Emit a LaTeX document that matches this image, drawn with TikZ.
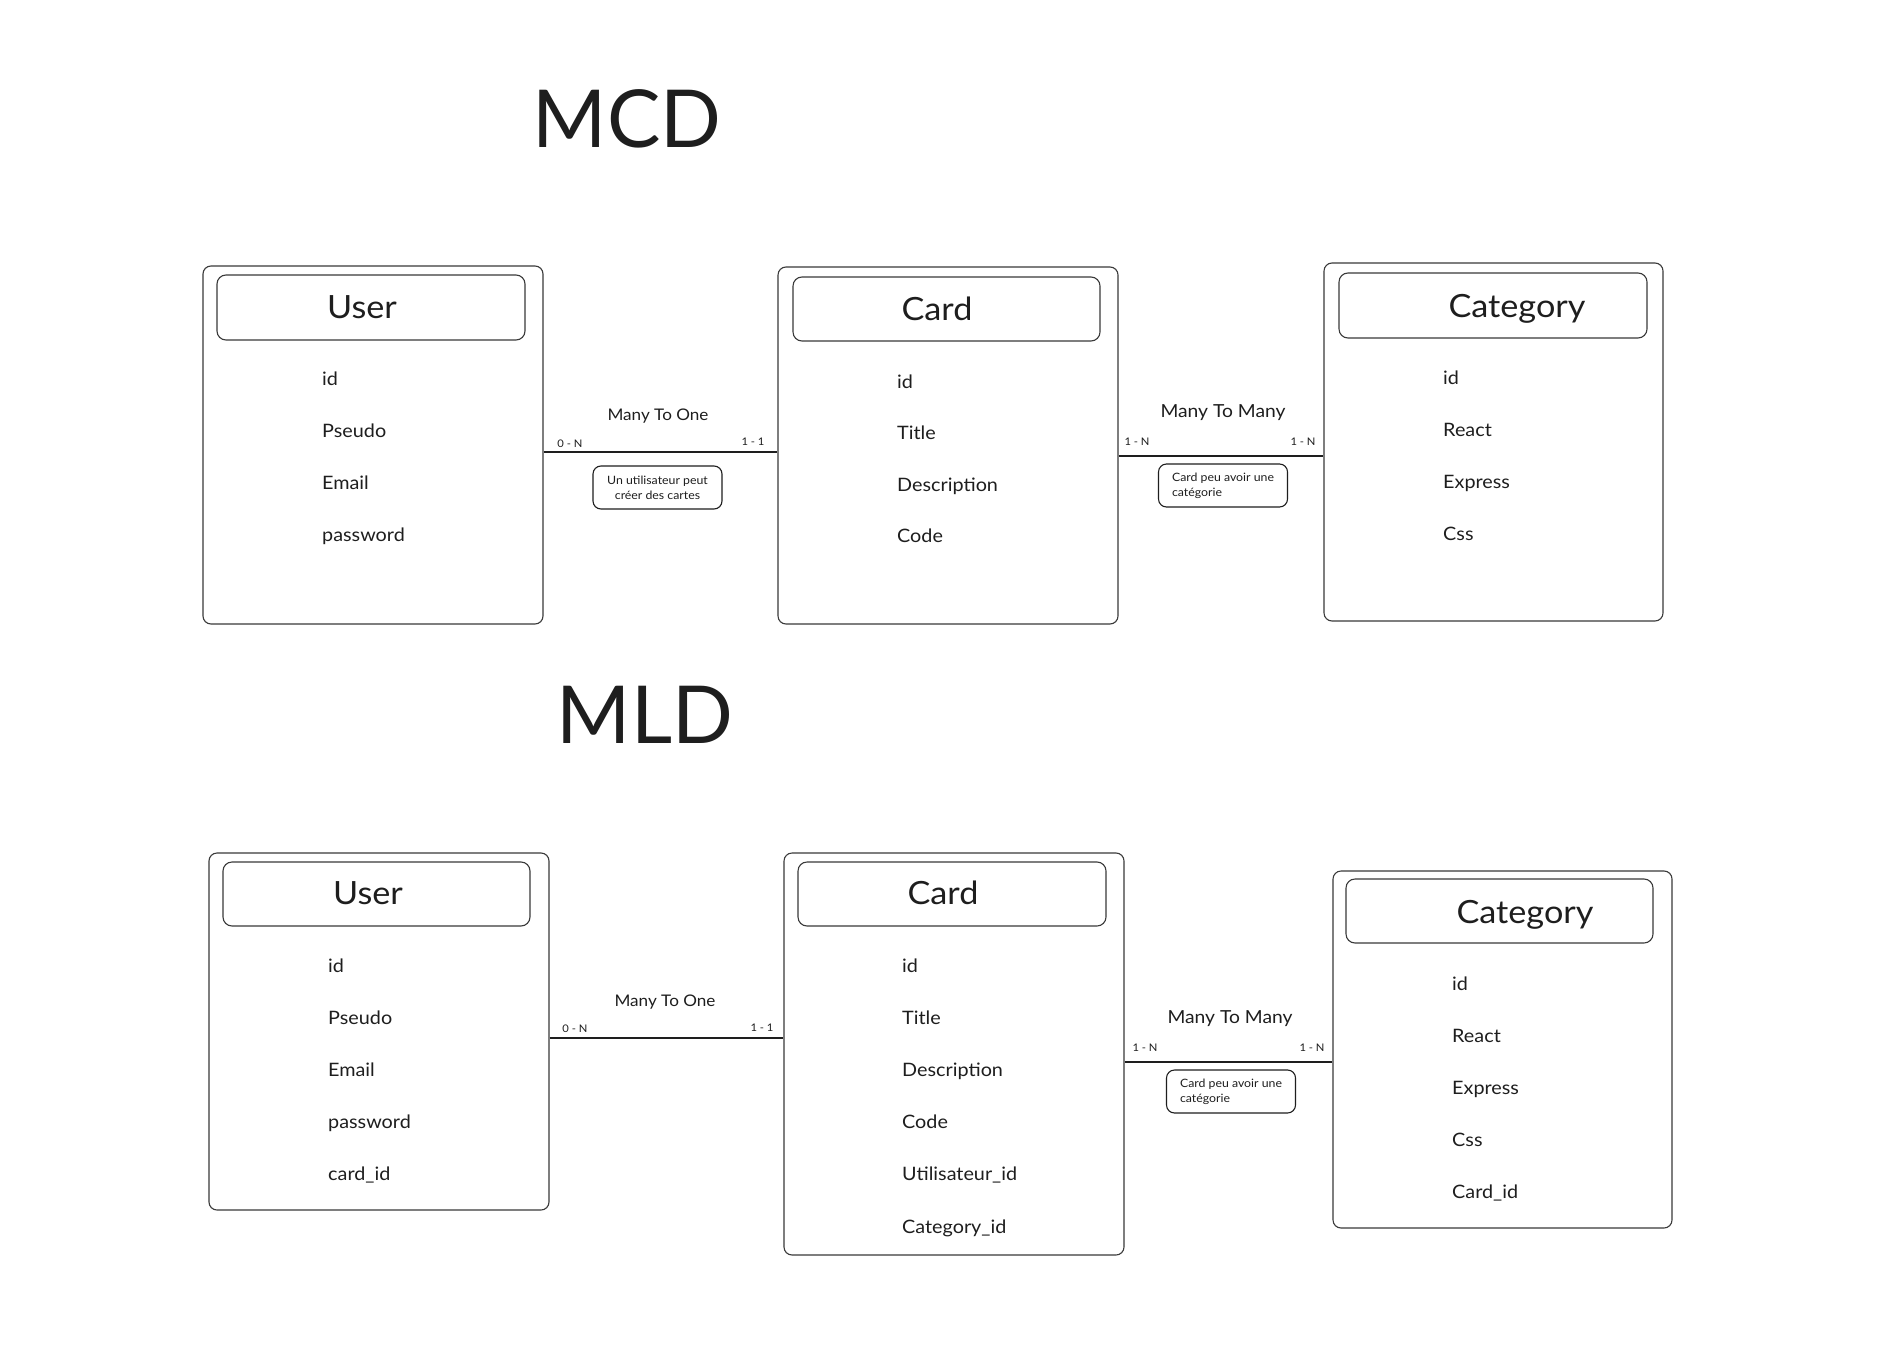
\documentclass[tikz,border=0pt]{standalone}
\usepackage{fontspec}
\setmainfont[FakeStretch=1.07]{Lato}
\newfontfamily\titlefont{Lato}
\definecolor{ink}{HTML}{1E1E1E}
\definecolor{edge}{HTML}{3A3A3A}
\tikzset{
  entity/.style={draw=edge,line width=1.1pt,rounded corners=8pt,inner sep=0pt},
  head/.style={draw=edge,line width=1.1pt,rounded corners=9pt,inner sep=0pt},
  headtxt/.style={anchor=base,text=ink,font=\fontsize{32}{36}\selectfont},
  attr/.style={anchor=base west,text=ink,inner sep=0pt,font=\fontsize{18.5}{22}\selectfont},
  reltxt/.style={anchor=base,text=ink,inner sep=0pt,font=\fontsize{16}{19}\selectfont},
  mult/.style={anchor=base,text=ink,inner sep=0pt,font=\fontsize{10.5}{12}\selectfont},
  note/.style={draw=ink,line width=1.1pt,rounded corners=8pt,text=ink,
    minimum width=129pt,minimum height=43pt,font=\fontsize{11.5}{15}\selectfont},
  link/.style={draw=ink,line width=1.6pt},
  bigtitle/.style={anchor=base,text=ink,font=\titlefont\fontsize{80}{88}\selectfont}
}
\begin{document}
\begin{tikzpicture}[x=1pt,y=-1pt]
\fill[white] (0,0) rectangle (1894,1364);
\useasboundingbox (0,0) rectangle (1894,1364);
% MCD
\node[bigtitle] (mcd) at (627,148) {MCD};
\node[entity,minimum width=340pt,minimum height=358pt] (usr1) at (373,445) {};
\node[head,minimum width=308pt,minimum height=65pt] (usr1h) at (371,307.5) {};
\node[headtxt] (usr1t) at (362,318) {User};
\foreach \txt [count=\i from 0] in {id,Pseudo,Email,password}
  \node[attr] (usr1a\i) at (322,385+52.3*\i) {\txt};
\node[entity,minimum width=340pt,minimum height=357pt] (card1) at (948,445.5) {};
\node[head,minimum width=307pt,minimum height=64pt] (card1h) at (946.5,309) {};
\node[headtxt] (card1t) at (937,320) {Card};
\foreach \txt [count=\i from 0] in {id,Title,Description,Code}
  \node[attr] (card1a\i) at (897,388+51.5*\i) {\txt};
\node[entity,minimum width=339pt,minimum height=358pt] (cat1) at (1493.5,442) {};
\node[head,minimum width=308pt,minimum height=65pt] (cat1h) at (1493,305.5) {};
\node[headtxt] (cat1t) at (1517,317) {Category};
\foreach \txt [count=\i from 0] in {id,React,Express,Css}
  \node[attr] (cat1a\i) at (1443,384+52*\i) {\txt};
% MCD links
\draw[link] ([yshift=-7pt]usr1.east) -- ([yshift=-7pt]usr1.east -| card1.west);
\node[reltxt] (rel1) at (658,420) {Many To One};
\node[mult] (m1a) at (570,447) {0 - N};
\node[mult] (m1b) at (753,445) {1 - 1};
\node[note,align=center] (nt1) at (657.5,487.5) {Un utilisateur peut\\créer des cartes};
\draw[link] ([yshift=-10.5pt]card1.east) -- ([yshift=-10.5pt]card1.east -| cat1.west);
\node[reltxt,font=\fontsize{18}{21}\selectfont] (rel2) at (1223,417) {Many To Many};
\node[mult] (m2a) at (1137,445) {1 - N};
\node[mult] (m2b) at (1303,445) {1 - N};
\node[note,align=left] (nt2) at (1223,485.5) {Card peu avoir une\\catégorie};
% MLD
\node[bigtitle] (mld) at (645,743) {MLD};
\node[entity,minimum width=340pt,minimum height=357pt] (usr2) at (379,1031.5) {};
\node[head,minimum width=307pt,minimum height=64pt] (usr2h) at (376.5,894) {};
\node[headtxt] (usr2t) at (368,904) {User};
\foreach \txt [count=\i from 0] in {id,Pseudo,Email,password,card\_id}
  \node[attr] (usr2a\i) at (328,972+52.2*\i) {\txt};
\node[entity,minimum width=340pt,minimum height=402pt] (card2) at (954,1054) {};
\node[head,minimum width=308pt,minimum height=64pt] (card2h) at (952,894) {};
\node[headtxt] (card2t) at (943,904) {Card};
\foreach \txt [count=\i from 0] in {id,Title,Description,Code,Utilisateur\_id,Category\_id}
  \node[attr] (card2a\i) at (902,972+52.2*\i) {\txt};
\node[entity,minimum width=339pt,minimum height=357pt] (cat2) at (1502.5,1049.5) {};
\node[head,minimum width=307pt,minimum height=64pt] (cat2h) at (1499.5,911) {};
\node[headtxt] (cat2t) at (1525,923) {Category};
\foreach \txt [count=\i from 0] in {id,React,Express,Css,Card\_id}
  \node[attr] (cat2a\i) at (1452,990+52.2*\i) {\txt};
% MLD links
\draw[link] ([yshift=-6.5pt]usr2.east) -- ([yshift=-6.5pt]usr2.east -| card2.west);
\node[reltxt] (rel3) at (665,1006) {Many To One};
\node[mult] (m3a) at (575,1032) {0 - N};
\node[mult] (m3b) at (762,1031) {1 - 1};
\draw[link] ([yshift=-8pt]card2.east) -- ([yshift=-8pt]card2.east -| cat2.west);
\node[reltxt,font=\fontsize{18}{21}\selectfont] (rel4) at (1230,1023) {Many To Many};
\node[mult] (m4a) at (1145,1051) {1 - N};
\node[mult] (m4b) at (1312,1051) {1 - N};
\node[note,align=left] (nt3) at (1231,1091.5) {Card peu avoir une\\catégorie};
\end{tikzpicture}
\end{document}
